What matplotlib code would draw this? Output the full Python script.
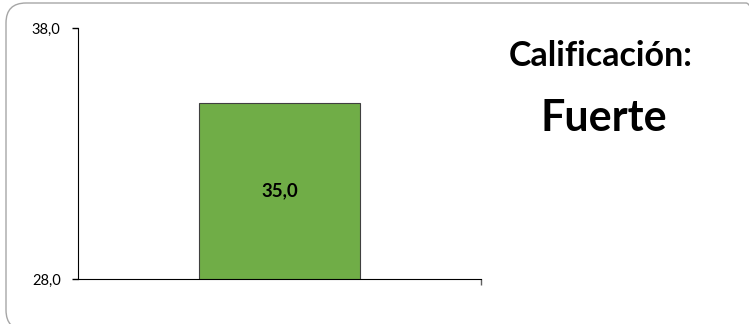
import matplotlib
matplotlib.use("Agg")
import matplotlib.pyplot as plt
from matplotlib.patches import FancyBboxPatch

plt.rcParams['font.family'] = ['Lato', 'DejaVu Sans']

categories = ['']
values = [35.0]
y_ticks = [28.0, 38.0]
title_txt = 'Calificación:'
grade_txt = 'Fuerte'

fig = plt.figure(figsize=(7.49, 3.24), dpi=100)

# rounded frame round the whole chart (runs off the right and bottom edges)
frame = FancyBboxPatch((0.06, -0.06), 7.6, 3.27,
                       boxstyle="round,pad=0,rounding_size=0.2",
                       transform=fig.dpi_scale_trans, fill=False,
                       edgecolor='#a6a6a6', linewidth=1.0, clip_on=False)
fig.patches.append(frame)

ax = fig.add_axes([78 / 749, 1 - 279 / 324, 403 / 749, 251 / 324])
bars = ax.bar(range(len(categories)), values, width=0.4,
              color='#70ad47', edgecolor='#404040', linewidth=0.8)
ax.set_xlim(-0.5, 0.5)
ax.set_ylim(y_ticks[0], y_ticks[-1])
ax.set_yticks(y_ticks)
ax.set_yticklabels([f"{v:.1f}".replace('.', ',') for v in y_ticks], fontsize=10.5)
ax.set_xticks([0.5])
ax.set_xticklabels([''])
ax.tick_params(axis='y', length=4.5, width=1, pad=8)
ax.tick_params(axis='x', length=4, width=1, color='#606060')
ax.spines['top'].set_visible(False)
ax.spines['right'].set_visible(False)

for b, v in zip(bars, values):
    ax.text(b.get_x() + b.get_width() / 2, (y_ticks[0] + v) / 2,
            f"{v:.1f}".replace('.', ','), ha='center', va='center',
            fontsize=13.5, fontweight='bold')

fig.text(601 / 749, 1 - 56 / 324, title_txt, ha='center', va='center',
         fontsize=24.5, fontweight='bold')
fig.text(604 / 749, 1 - 118 / 324, grade_txt, ha='center', va='center',
         fontsize=31, fontweight='bold')

fig.savefig('out.png', dpi=100)
